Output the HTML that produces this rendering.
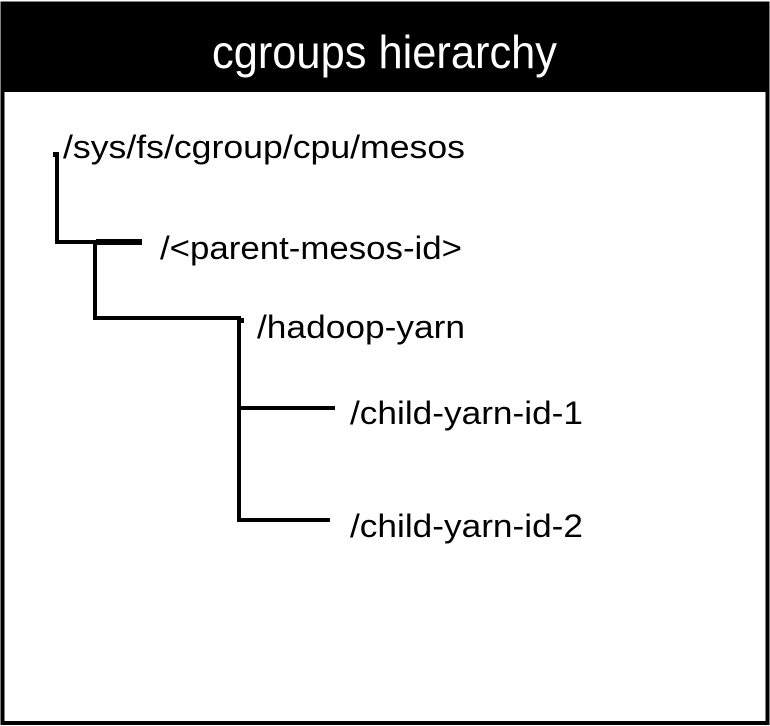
<!DOCTYPE html>
<html><head><style>
html,body{margin:0;padding:0;background:#fff;width:770px;height:726px;overflow:hidden}
</style></head><body>
<svg width="770" height="726" xmlns="http://www.w3.org/2000/svg" style="display:block">
<rect x="0" y="0" width="770" height="726" fill="#fff"/>
<rect x="2.5" y="3.5" width="765" height="719.5" fill="#fff" stroke="#000" stroke-width="4"/>
<rect x="1" y="2" width="768" height="90" fill="#000"/>
<text x="212" y="68" textLength="345" lengthAdjust="spacingAndGlyphs" font-family="Liberation Sans, sans-serif" font-size="46" fill="#fff">cgroups hierarchy</text>
<g fill="#000">
<rect x="55" y="152" width="4" height="92"/>
<rect x="53" y="152" width="6" height="5"/>
<rect x="55" y="240" width="87" height="4"/>
<rect x="96" y="239" width="46" height="6"/>
<rect x="93" y="240" width="4" height="80"/>
<rect x="93" y="316" width="148" height="4"/>
<rect x="237" y="316" width="4" height="206"/>
<rect x="241" y="318" width="3" height="5"/>
<rect x="237" y="406" width="98" height="4"/>
<rect x="237" y="518" width="93" height="4"/>
</g>
<g font-family="Liberation Sans, sans-serif" font-size="32" fill="#000">
<text x="63" y="158" textLength="402" lengthAdjust="spacingAndGlyphs">/sys/fs/cgroup/cpu/mesos</text>
<text x="160" y="259" textLength="302" lengthAdjust="spacingAndGlyphs">/&lt;parent-mesos-id&gt;</text>
<text x="257" y="338" textLength="208" lengthAdjust="spacingAndGlyphs">/hadoop-yarn</text>
<text x="350" y="424" textLength="233" lengthAdjust="spacingAndGlyphs">/child-yarn-id-1</text>
<text x="350" y="537" textLength="233" lengthAdjust="spacingAndGlyphs">/child-yarn-id-2</text>
</g>
</svg>
</body></html>
